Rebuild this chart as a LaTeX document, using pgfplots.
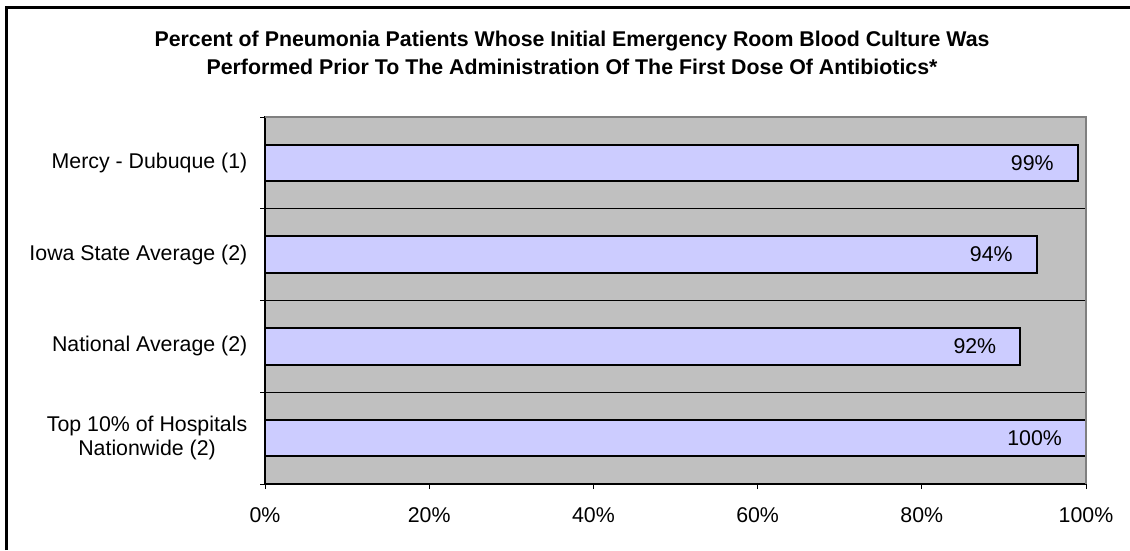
\documentclass[border=0pt]{standalone}
\usepackage{pgfplots}
\pgfplotsset{compat=1.18}
\usepackage{fontspec}
\setmainfont{Liberation Sans}
\definecolor{plotgray}{HTML}{C0C0C0}
\definecolor{edgegray}{HTML}{808080}
\definecolor{barblue}{HTML}{CCCCFF}
\begin{document}
\begin{tikzpicture}
\begin{scope}[x=0.75pt,y=0.75pt]
\useasboundingbox (0,0) rectangle (1130,550);
\draw[line width=2.25pt] (6,0) -- (6,542) -- (1130,542);
\node[font=\fontsize{16}{20.8}\selectfont\bfseries, align=center] at (572,497)
  {Percent of Pneumonia Patients Whose Initial Emergency Room Blood Culture Was\\Performed Prior To The Administration Of The First Dose Of Antibiotics*};
\end{scope}
\begin{axis}[
  at={(198.75pt,49.5pt)}, anchor=south west,
  scale only axis, width=615.75pt, height=275.25pt,
  xbar, bar width=0.4,
  xmin=0, xmax=100, ymin=0.5, ymax=4.5,
  axis background/.style={fill=plotgray},
  axis line style={black, line width=1.2pt},
  tick pos=left,
  xtick={0,20,40,60,80,100},
  xticklabel={\pgfmathprintnumber{\tick}\%},
  xticklabel style={font=\fontsize{16}{18}\selectfont, yshift=-10.5pt},
  ytick={1,2,3,4},
  yticklabels={{Top 10\% of Hospitals\\Nationwide (2)},{National Average (2)},{Iowa State Average (2)},{Mercy - Dubuque (1)}},
  yticklabel style={font=\fontsize{16}{18.5}\selectfont, align=center, xshift=-6pt},
  minor ytick={0.5,1.5,2.5,3.5,4.5},
  yminorgrids=true,
  minor grid style={black, line width=0.75pt},
  tick align=outside,
  x tick style={black, line width=0.75pt},
  major tick length=3.75pt,
  minor tick length=3.75pt,
  ytick style={draw=none},
  minor y tick style={draw=black, line width=0.75pt},
  /pgf/number format/assume math mode=true,
  point meta=x,
  nodes near coords={\pgfmathprintnumber{\pgfplotspointmeta}\%},
  nodes near coords style={anchor=east, xshift=-14pt, font=\fontsize{16}{18}\selectfont, text=black},
  clip=false,
]
\addplot[fill=barblue, draw=black, line width=1.5pt] coordinates {
  (100,1) (92,2) (94,3) (99,4)
};
\draw[edgegray, line width=1.5pt] (rel axis cs:0,1) -- (rel axis cs:1,1) -- (rel axis cs:1,0);
\end{axis}
\end{tikzpicture}
\end{document}
